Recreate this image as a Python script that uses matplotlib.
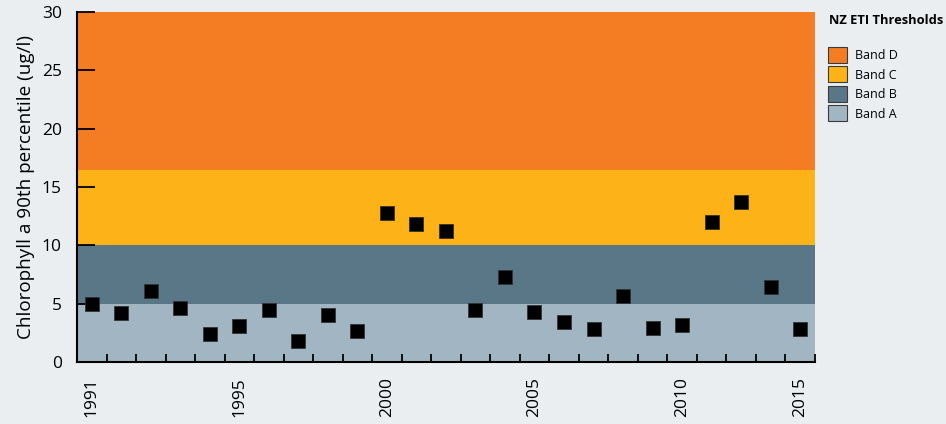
import numpy as np
import matplotlib
matplotlib.use("Agg")
import matplotlib.pyplot as plt
from matplotlib.patches import Patch

plt.rcParams['font.family'] = ['Open Sans', 'DejaVu Sans']

# chlorophyll a 90th percentile per year (ug/l), one value per category slot
chl90 = [5.0, 4.2, 6.1, 4.6, 2.4, 3.1, 4.5, 1.8, 4.0, 2.7,
         12.8, 11.8, 11.2, 4.5, 7.3, 4.3, 3.4, 2.8, 5.7, 2.9,
         3.15, 12.0, 13.7, 6.4, 2.8]
tick_idx = [0, 5, 10, 15, 20, 24]
tick_labels = ["1991", "1995", "2000", "2005", "2010", "2015"]

# NZ ETI threshold bands
band_names = ["Band A", "Band B", "Band C", "Band D"]
band_lower = [0, 5, 10, 16.5]
band_upper = [5, 10, 16.5, 30]
band_colors = ["#a2b5c2", "#5a7788", "#fdb318", "#f47d23"]

bg = "#eaeef1"
fig = plt.figure(figsize=(9.46, 4.24), dpi=100, facecolor=bg)
ax = fig.add_axes([0.0814, 0.1462, 0.78, 0.8255])
ax.set_facecolor(bg)

for lo, hi, c in zip(band_lower, band_upper, band_colors):
    ax.axhspan(lo, hi, color=c, lw=0, zorder=0)

x = np.arange(len(chl90))
ax.plot(x, chl90, ls="none", marker="s", ms=9.5, mfc="black",
        mec="#333333", mew=0.6, zorder=3, clip_on=False)

ax.set_xlim(-0.5, len(chl90) - 0.5)
ax.set_ylim(0, 30)
ax.set_yticks(range(0, 31, 5))
ax.tick_params(axis="y", direction="in", length=13, width=1.3, pad=11,
               labelsize=12.5, color="black")
ax.set_xticks(tick_idx)
ax.set_xticklabels(tick_labels, rotation=90, fontsize=12.5)
ax.set_xticks(np.arange(-0.5, len(chl90)), minor=True)
ax.tick_params(axis="x", which="major", length=0, pad=11)
ax.tick_params(axis="x", which="minor", direction="in", length=6, width=1.3)

for s in ["top", "right"]:
    ax.spines[s].set_visible(False)
for s in ["left", "bottom"]:
    ax.spines[s].set_linewidth(1.5)
    ax.spines[s].set_zorder(4)

ax.set_ylabel("Chlorophyll a 90th percentile (ug/l)", fontsize=13.6, labelpad=5)

# legend: title as separate text, boxes below it
fig.text(829 / 946, 1 - 21 / 424, "NZ ETI Thresholds", fontsize=9.3,
         fontweight="bold", ha="left", va="center")
handles = [Patch(facecolor=c, edgecolor="#3a3a3a", linewidth=0.8)
           for c in band_colors[::-1]]
leg = fig.legend(handles, band_names[::-1], loc="upper left",
                 bbox_to_anchor=(828 / 946, 1 - 47 / 424), frameon=False,
                 fontsize=9, handlelength=1.5, handleheight=1.59,
                 labelspacing=0.28, handletextpad=0.64, borderpad=0,
                 borderaxespad=0)

fig.savefig("out.png", dpi=100, facecolor=bg)
